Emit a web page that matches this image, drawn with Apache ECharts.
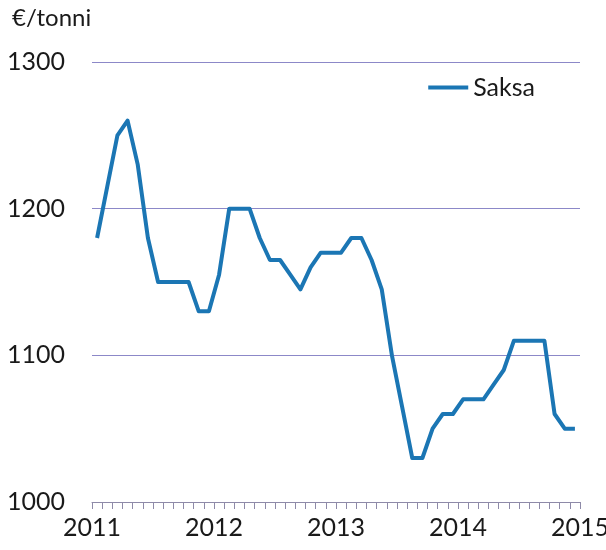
<!DOCTYPE html>
<html>
<head>
<meta charset="utf-8">
<script src="https://cdn.jsdelivr.net/npm/echarts@6/dist/echarts.min.js"></script>
<style>
  html, body { margin: 0; padding: 0; background: #fff; }
  #chart { width: 606px; height: 550px; }
</style>
</head>
<body>
<div id="chart"></div>
<script>
// monthly price, Jan 2011 .. Dec 2014
const years = ['2011', '2012', '2013', '2014', '2015']
const saksa = [
  1180, 1215, 1250, 1260, 1230, 1180, 1150, 1150, 1150, 1150, 1130, 1130,
  1155, 1200, 1200, 1200, 1180, 1165, 1165, 1155, 1145, 1160, 1170, 1170,
  1170, 1180, 1180, 1165, 1145, 1100, 1065, 1030, 1030, 1050, 1060, 1060,
  1070, 1070, 1070, 1080, 1090, 1110, 1110, 1110, 1110, 1060, 1050, 1050
]
const yTicks = [1000, 1100, 1200, 1300]

const font = 'Lato, "Open Sans", sans-serif'
const chart = echarts.init(document.getElementById('chart'))

chart.setOption({
  animation: false,
  textStyle: { fontFamily: font },
  grid: { left: 92, right: 26, top: 62, bottom: 48, outerBoundsMode: 'none', containLabel: false },
  graphic: [{
    type: 'text', left: 12, top: 6,
    style: { text: '€/tonni', font: '24px ' + font, fill: '#1a1a1a' }
  }],
  legend: {
    right: 66, top: 70,
    itemWidth: 40, itemHeight: 4, itemGap: 4,
    icon: 'rect',
    textStyle: { fontSize: 25, color: '#1a1a1a', fontFamily: font },
    data: ['Saksa']
  },
  xAxis: {
    type: 'value',
    min: 0, max: 48, interval: 12,
    axisLine: { show: true, lineStyle: { color: '#8e8aa8', width: 1 } },
    axisTick: { show: true, length: 7, lineStyle: { color: '#8e8aa8' } },
    minorTick: { show: true, splitNumber: 12, length: 7, lineStyle: { color: '#8e8aa8' } },
    splitLine: { show: false },
    axisLabel: {
      fontSize: 25, color: '#1a1a1a', margin: 13,
      formatter: v => years[v / 12]
    }
  },
  yAxis: {
    type: 'value',
    min: yTicks[0], max: yTicks[yTicks.length - 1], interval: 100,
    axisLine: { show: false },
    axisTick: { show: false },
    splitLine: { show: true, lineStyle: { color: '#8c88c8', width: 1 } },
    axisLabel: {
      fontSize: 25, color: '#1a1a1a', margin: 85,
      align: 'left',
      formatter: v => String(v)
    }
  },
  series: [{
    name: 'Saksa',
    type: 'line',
    data: saksa.map((v, i) => [i + 0.5, v]),
    symbol: 'none',
    lineStyle: { color: '#1b76b4', width: 4, join: 'round' },
    itemStyle: { color: '#1b76b4' }
  }]
})
</script>
</body>
</html>
